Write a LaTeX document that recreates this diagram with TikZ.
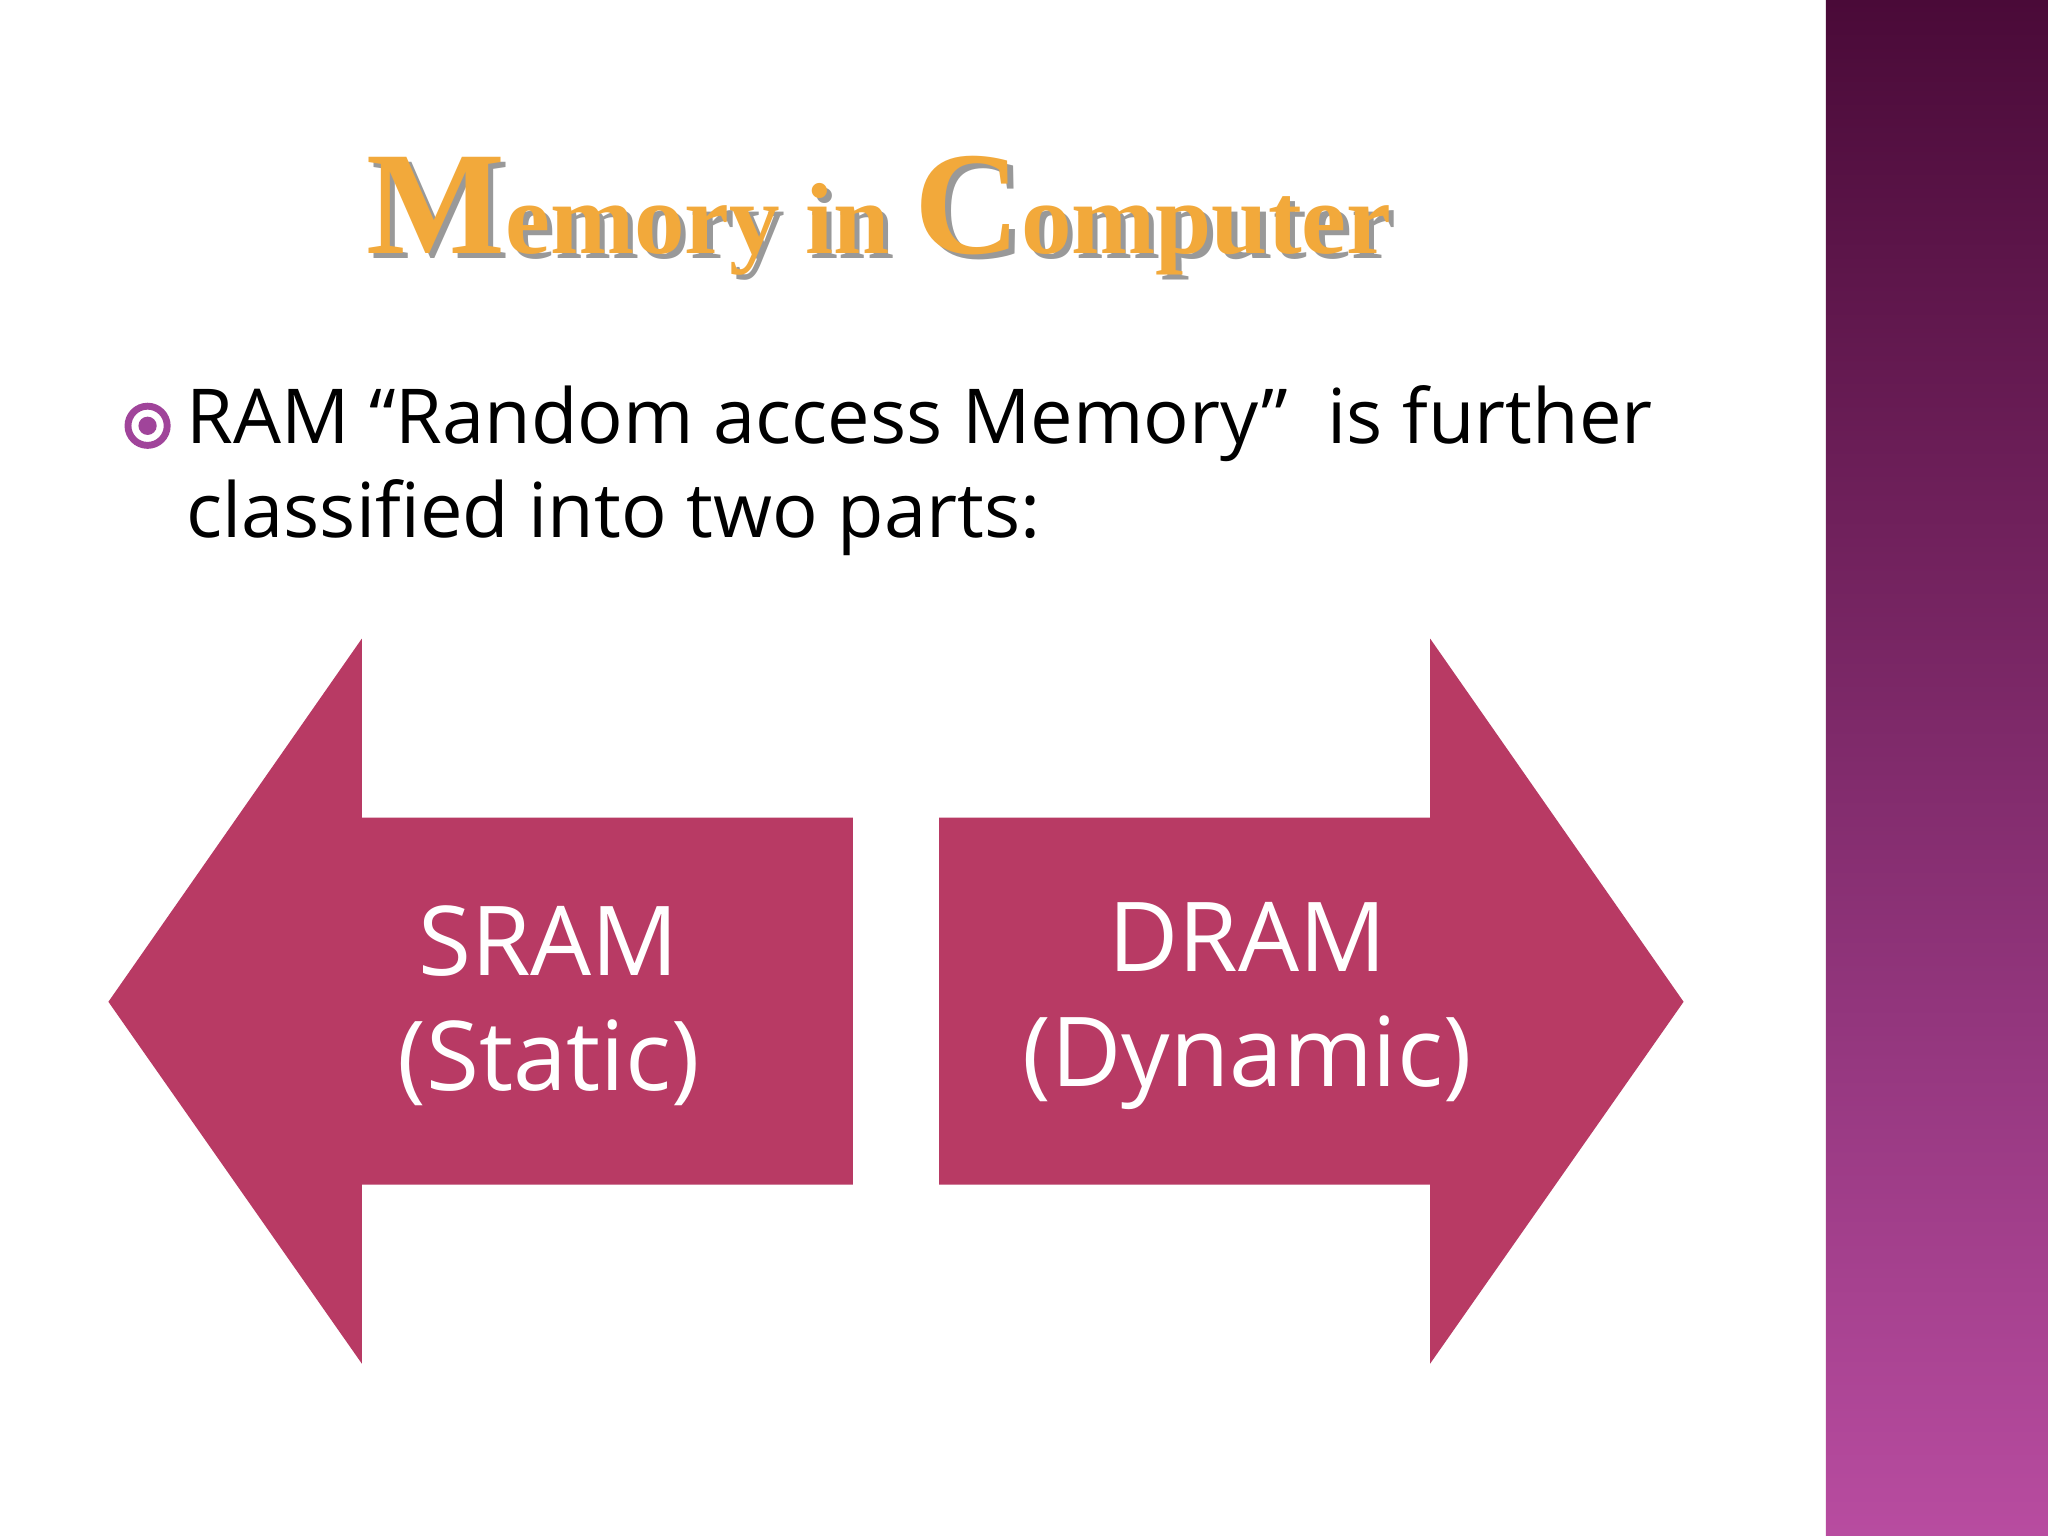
\documentclass[tikz,border=0pt]{standalone}
\usepackage{fontspec}
\setmainfont{Open Sans}
\newfontfamily\titlefont{Liberation Serif}
\usetikzlibrary{positioning}
\definecolor{arrowred}{HTML}{B83A64}
\definecolor{bandtop}{HTML}{4A0A38}
\definecolor{bandbot}{HTML}{B84CA0}
\definecolor{bulletpurple}{HTML}{A0449A}
\definecolor{titlegold}{HTML}{F2A93B}
\newcommand{\titletext}{{\fontsize{32}{34}\selectfont M}{\fontsize{22}{26}\selectfont emory in }{\fontsize{32}{34}\selectfont C}{\fontsize{22}{26}\selectfont omputer}}
\tikzset{
  bigtext/.style={text=white, font=\fontsize{21}{25}\selectfont, align=center, inner sep=0pt},
  bodytext/.style={anchor=west, font=\fontsize{16.5}{20}\selectfont, inner sep=0pt},
  titlestyle/.style={font=\titlefont\bfseries, anchor=base},
}
\begin{document}
\begin{tikzpicture}[x=0.01cm, y=-0.01cm]
    \useasboundingbox (0,0) rectangle (1568,1176);
    \fill[white] (0,0) rectangle (1568,1176);
    % side band
    \shade[top color=bandtop, bottom color=bandbot] (1398,0) rectangle (1568,1176);

    % title
    \node[titlestyle, text=black!40] at (677,198) {\titletext};
    \node (title) [titlestyle, text=titlegold] at (673,194) {\titletext};

    % bullet
    \node (bullet) [circle, draw=bulletpurple, line width=1.5pt, minimum size=0.3cm, inner sep=0pt] at (113,326) {};
    \fill[bulletpurple] (bullet.center) circle (0.07cm);
    \node (line1) [bodytext] at (142,324) {RAM “Random access Memory”\ \ is further};
    \node (line2) [bodytext] at (142,396) {classified into two parts:};

    % arrows
    \fill[arrowred] (83,767) -- (277,489) -- (277,626) -- (653,626) -- (653,907) -- (277,907) -- (277,1044) -- cycle;
    \fill[arrowred] (1289,767) -- (1095,489) -- (1095,626) -- (719,626) -- (719,907) -- (1095,907) -- (1095,1044) -- cycle;

    \node (sram) [bigtext] at (420,770) {SRAM\\(Static)};
    \node (dram) [bigtext] at (955,770) {DRAM\\(Dynamic)};
\end{tikzpicture}
\end{document}
